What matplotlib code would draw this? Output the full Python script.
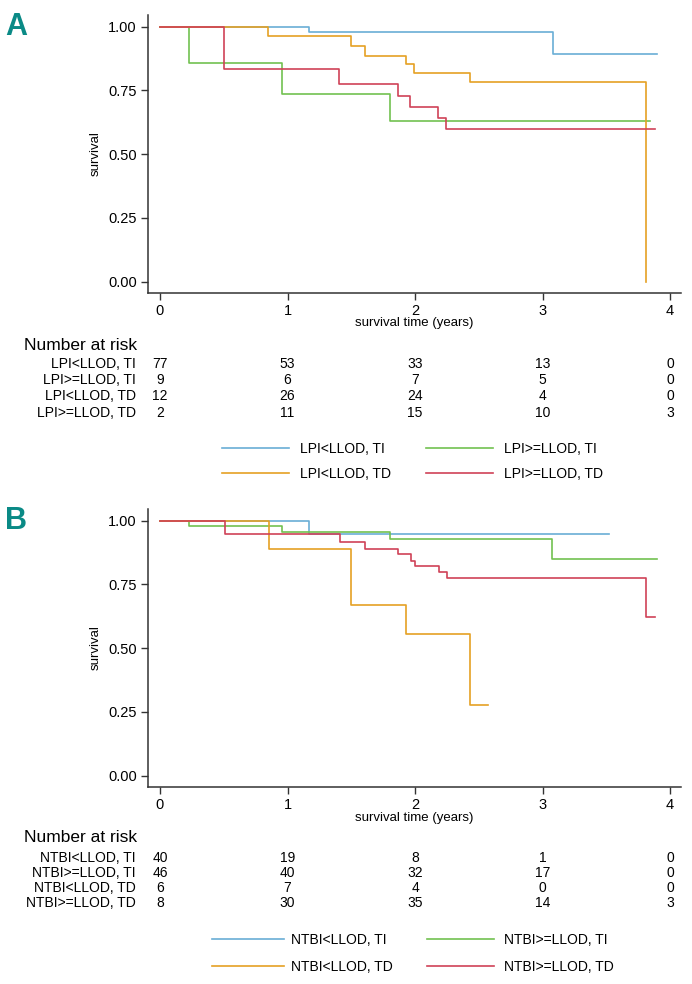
import matplotlib
matplotlib.use("Agg")
import matplotlib.pyplot as plt
from matplotlib.transforms import blended_transform_factory
from matplotlib.ticker import FormatStrFormatter

plt.rcParams['font.family'] = ['Liberation Sans Narrow', 'Liberation Sans', 'DejaVu Sans']

W, H = 692, 984

# ---------------- data ----------------
groups_A = ["LPI<LLOD, TI", "LPI>=LLOD, TI", "LPI<LLOD, TD", "LPI>=LLOD, TD"]
groups_B = ["NTBI<LLOD, TI", "NTBI>=LLOD, TI", "NTBI<LLOD, TD", "NTBI>=LLOD, TD"]

# Panel A survival steps
A_t_lo_ti = [0, 1.17, 3.08, 3.90]
A_s_lo_ti = [1.0, 0.980, 0.893, 0.893]
A_t_hi_ti = [0, 0.23, 0.955, 1.80, 3.84]
A_s_hi_ti = [1.0, 0.858, 0.736, 0.631, 0.631]
A_t_lo_td = [0, 0.85, 1.495, 1.605, 1.93, 1.995, 2.43, 3.81]
A_s_lo_td = [1.0, 0.963, 0.923, 0.886, 0.852, 0.818, 0.781, 0.0]
A_t_hi_td = [0, 0.505, 1.405, 1.87, 1.96, 2.18, 2.245, 3.88]
A_s_hi_td = [1.0, 0.835, 0.775, 0.728, 0.684, 0.643, 0.600, 0.600]

# Panel B survival steps
B_t_lo_ti = [0, 1.17, 3.52]
B_s_lo_ti = [1.0, 0.946, 0.946]
B_t_hi_ti = [0, 0.23, 0.96, 1.80, 3.075, 3.90]
B_s_hi_ti = [1.0, 0.978, 0.954, 0.927, 0.850, 0.850]
B_t_lo_td = [0, 0.855, 1.50, 1.93, 2.43, 2.57]
B_s_lo_td = [1.0, 0.889, 0.667, 0.556, 0.278, 0.278]
B_t_hi_td = [0, 0.51, 1.41, 1.61, 1.87, 1.965, 2.00, 2.185, 2.25, 3.81, 3.88]
B_s_hi_td = [1.0, 0.946, 0.917, 0.890, 0.867, 0.843, 0.820, 0.798, 0.776, 0.622, 0.622]

risk_times = [0, 1, 2, 3, 4]
risk_A = [[77, 53, 33, 13, 0],
          [9, 6, 7, 5, 0],
          [12, 26, 24, 4, 0],
          [2, 11, 15, 10, 3]]
risk_B = [[40, 19, 8, 1, 0],
          [46, 40, 32, 17, 0],
          [6, 7, 4, 0, 0],
          [8, 30, 35, 14, 3]]

yticks = [0.0, 0.25, 0.5, 0.75, 1.0]
xticks = [0, 1, 2, 3, 4]

colors = ["#6aaed6", "#72c150", "#e5a124", "#cf4257"]
teal = "#0a8a86"

# ---------------- figure ----------------
fig = plt.figure(figsize=(W / 100, H / 100), dpi=100)


def fx(px):
    return px / W


def fy(py):
    return 1 - py / H


def panel(letter, top_px, bot_px, curves, groups, risk, risk_hdr_y, risk_rows_y,
          leg_rows_y, leg_x1, leg_x2, xlabel_y):
    left, right = 148, 681
    ax = fig.add_axes([fx(left), fy(bot_px), (right - left) / W, (bot_px - top_px) / H])
    ppx = (670 - 160) / 4.0
    ax.set_xlim(-(160 - left) / ppx, 4 + (right - 670) / ppx)
    y1 = top_px + 11.5
    y0 = bot_px - 11.5
    ppy = (y0 - y1)
    ax.set_ylim(-(bot_px - y0) / ppy, 1 + (y1 - top_px) / ppy)
    handles = []
    for (t, s), c in zip(curves, colors):
        h, = ax.step(t, s, where='post', color=c, lw=1.2)
        handles.append(h)
    for sp in ['top', 'right']:
        ax.spines[sp].set_visible(False)
    for sp in ['left', 'bottom']:
        ax.spines[sp].set_linewidth(1.1)
        ax.spines[sp].set_color('#333333')
    ax.set_xticks(xticks)
    ax.set_yticks(yticks)
    ax.yaxis.set_major_formatter(FormatStrFormatter('%.2f'))
    ax.tick_params(direction='out', length=5, width=1.0, color='#333333',
                   labelsize=10.5, pad=3)
    ax.set_ylabel('survival', fontsize=9.5, labelpad=5)
    ax.patch.set_visible(False)

    fig.text(fx(16), fy(top_px + 12), letter, color=teal, fontsize=22,
             fontweight='bold', ha='center', va='center')
    tr = blended_transform_factory(ax.transData, fig.transFigure)
    fig.text(fx(414), fy(xlabel_y), 'survival time (years)', fontsize=9.5,
             ha='center', va='center')
    fig.text(fx(24), fy(risk_hdr_y), 'Number at risk', fontsize=12.5,
             ha='left', va='center')
    for g, row, yy in zip(groups, risk, risk_rows_y):
        fig.text(fx(136), fy(yy), g, fontsize=10, ha='right', va='center')
        for tt, n in zip(risk_times, row):
            ax.text(tt, fy(yy), str(n), transform=tr, fontsize=10,
                    ha='center', va='center')
    order = [(0, leg_x1, leg_rows_y[0]), (2, leg_x1, leg_rows_y[1]),
             (1, leg_x2, leg_rows_y[0]), (3, leg_x2, leg_rows_y[1])]
    for gi, (xa, xb, xt), yy in order:
        fig.legend([handles[gi]], [groups[gi]], loc='center left',
                   bbox_to_anchor=(fx(xa), fy(yy)), frameon=False,
                   handlelength=(xb - xa) / 13.9, handletextpad=(xt - xb) / 13.9,
                   borderpad=0, borderaxespad=0, fontsize=10)
    return ax


curvesA = [(A_t_lo_ti, A_s_lo_ti), (A_t_hi_ti, A_s_hi_ti),
           (A_t_lo_td, A_s_lo_td), (A_t_hi_td, A_s_hi_td)]
curvesB = [(B_t_lo_ti, B_s_lo_ti), (B_t_hi_ti, B_s_hi_ti),
           (B_t_lo_td, B_s_lo_td), (B_t_hi_td, B_s_hi_td)]

panel('A', 15, 293, curvesA, groups_A, risk_A, 345, [364, 380, 396, 413],
      [449, 474], (222, 289, 300), (426, 493, 504), 323)
panel('B', 509, 787, curvesB, groups_B, risk_B, 838, [858, 873, 888, 903],
      [940, 967], (212, 284, 291), (427, 494, 504), 818)

fig.savefig('out.png', dpi=100)
